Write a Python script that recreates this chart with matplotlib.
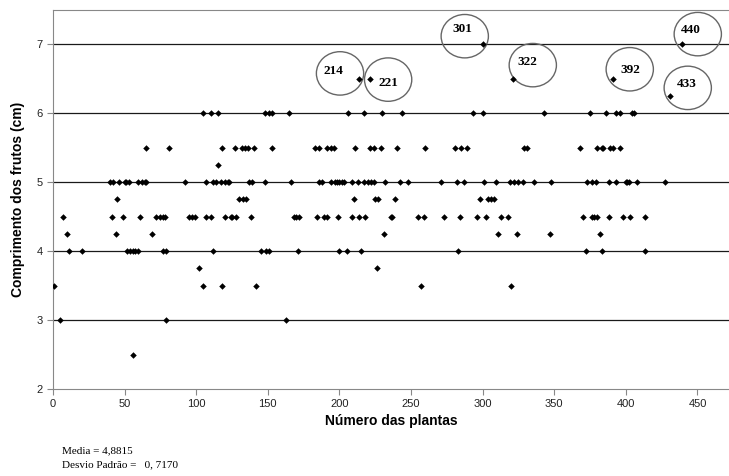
import matplotlib
matplotlib.use('Agg')
import matplotlib.pyplot as plt
from matplotlib.patches import Ellipse

# plant number, fruit length (cm)
planta = [1, 5, 7, 10, 11, 20, 40, 41, 42, 44, 45, 46, 49, 50, 51, 52, 53, 54, 56, 56,
          57, 59, 59, 61, 62, 64, 65, 65, 69, 72, 75, 77, 77, 78, 79, 79, 81, 92, 95, 97,
          99, 102, 105, 105, 107, 107, 110, 110, 112, 112, 114, 115, 115, 117, 118, 118, 120, 120, 122, 123,
          124, 125, 127, 128, 130, 132, 133, 134, 135, 136, 137, 138, 139, 140, 142, 145, 148, 148, 149, 151,
          151, 153, 153, 163, 165, 166, 168, 170, 171, 172, 183, 184, 186, 186, 188, 189, 191, 191, 194, 194,
          196, 197, 198, 199, 200, 200, 202, 203, 205, 206, 209, 209, 210, 211, 213, 214, 214, 215, 217, 217,
          218, 220, 221, 221, 222, 224, 224, 225, 226, 227, 229, 230, 231, 232, 236, 237, 239, 240, 242, 244,
          248, 255, 257, 259, 260, 271, 273, 281, 282, 283, 284, 285, 287, 289, 293, 296, 298, 300, 300, 301,
          302, 304, 306, 308, 309, 311, 313, 318, 319, 320, 321, 322, 324, 325, 328, 329, 331, 336, 343, 347,
          348, 368, 370, 372, 373, 375, 376, 376, 378, 379, 380, 380, 382, 383, 383, 384, 386, 388, 388, 389,
          391, 391, 393, 393, 396, 396, 398, 400, 401, 402, 403, 404, 406, 408, 413, 413, 427, 431, 439]
comprimento = [3.5, 3.0, 4.5, 4.25, 4.0, 4.0, 5.0, 4.5, 5.0, 4.25, 4.75, 5.0, 4.5, 5.0, 5.0, 4.0, 5.0, 4.0, 4.0, 2.5,
               4.0, 4.0, 5.0, 4.5, 5.0, 5.0, 5.0, 5.5, 4.25, 4.5, 4.5, 4.5, 4.0, 4.5, 4.0, 3.0, 5.5, 5.0, 4.5, 4.5,
               4.5, 3.75, 3.5, 6.0, 5.0, 4.5, 6.0, 4.5, 5.0, 4.0, 5.0, 5.25, 6.0, 5.0, 5.5, 3.5, 5.0, 4.5, 5.0, 5.0,
               4.5, 4.5, 5.5, 4.5, 4.75, 5.5, 4.75, 5.5, 4.75, 5.5, 5.0, 4.5, 5.0, 5.5, 3.5, 4.0, 6.0, 5.0, 4.0, 6.0,
               4.0, 6.0, 5.5, 3.0, 6.0, 5.0, 4.5, 4.5, 4.0, 4.5, 5.5, 4.5, 5.5, 5.0, 5.0, 4.5, 5.5, 4.5, 5.5, 5.0,
               5.5, 5.0, 5.0, 4.5, 5.0, 4.0, 5.0, 5.0, 4.0, 6.0, 4.5, 5.0, 4.75, 5.5, 5.0, 4.5, 6.5, 4.0, 6.0, 5.0,
               4.5, 5.0, 6.5, 5.5, 5.0, 5.5, 5.0, 4.75, 3.75, 4.75, 5.5, 6.0, 4.25, 5.0, 4.5, 4.5, 4.75, 5.5, 5.0, 6.0,
               5.0, 4.5, 3.5, 4.5, 5.5, 5.0, 4.5, 5.5, 5.0, 4.0, 4.5, 5.5, 5.0, 5.5, 6.0, 4.5, 4.75, 6.0, 7.0, 5.0,
               4.5, 4.75, 4.75, 4.75, 5.0, 4.25, 4.5, 4.5, 5.0, 3.5, 6.5, 5.0, 4.25, 5.0, 5.0, 5.5, 5.5, 5.0, 6.0, 4.25,
               5.0, 5.5, 4.5, 4.0, 5.0, 6.0, 5.0, 4.5, 4.5, 5.0, 5.5, 4.5, 4.25, 5.5, 4.0, 5.5, 6.0, 5.0, 4.5, 5.5,
               5.5, 6.5, 6.0, 5.0, 6.0, 5.5, 4.5, 5.0, 5.0, 5.0, 4.5, 6.0, 6.0, 5.0, 4.5, 4.0, 5.0, 6.25, 7.0]

# circled labels: text, text position, circle centre
destaques = ['214', '221', '301', '322', '392', '433', '440']
texto_x = [195.5, 234.5, 286, 331.5, 403, 442.5, 445.5]
texto_y = [6.62, 6.44, 7.22, 6.74, 6.63, 6.43, 7.21]
circ_x = [200.4, 234, 287.5, 335, 402.7, 443.2, 450.2]
circ_y = [6.58, 6.49, 7.12, 6.70, 6.64, 6.37, 7.15]

fig = plt.figure(figsize=(7.29, 4.76), dpi=100)
ax = fig.add_axes([53/729, 1-389/476, 1-53/729, 379/476])

ax.scatter(planta, comprimento, marker='D', s=11, color='black', zorder=3, linewidths=0)

for y in [3, 4, 5, 6, 7]:
    ax.axhline(y, color='#1a1a1a', lw=0.9, zorder=1)

for t, tx, ty, cx, cy in zip(destaques, texto_x, texto_y, circ_x, circ_y):
    ax.add_patch(Ellipse((cx, cy), 33, 0.63, fill=False, edgecolor='#666666', lw=1.0, zorder=2))
    ax.text(tx, ty, t, family='Liberation Serif', weight='bold', fontsize=9.5,
            ha='center', va='center', zorder=4)

ax.set_xlim(0, 472)
ax.set_ylim(2, 7.5)
ax.set_xticks(range(0, 451, 50))
ax.set_yticks(range(2, 8))

for s in ['left', 'bottom', 'top']:
    ax.spines[s].set_color('#888888')
ax.spines['right'].set_visible(False)
ax.tick_params(direction='out', length=4, color='#888888', labelsize=8, labelcolor='#222222')
for lab in ax.get_xticklabels() + ax.get_yticklabels():
    lab.set_family('Liberation Sans')

ax.set_xlabel('Número das plantas', family='Liberation Sans', weight='bold', fontsize=10, labelpad=3)
ax.set_ylabel('Comprimento dos frutos (cm)', family='Liberation Sans', weight='bold', fontsize=10, labelpad=8)

fig.text(62/729, 1-451/476, 'Media = 4,8815', family='Liberation Serif', fontsize=8, va='center')
fig.text(62/729, 1-465/476, 'Desvio Padrão =   0, 7170', family='Liberation Serif', fontsize=8, va='center')

fig.savefig('out.png', dpi=100)
